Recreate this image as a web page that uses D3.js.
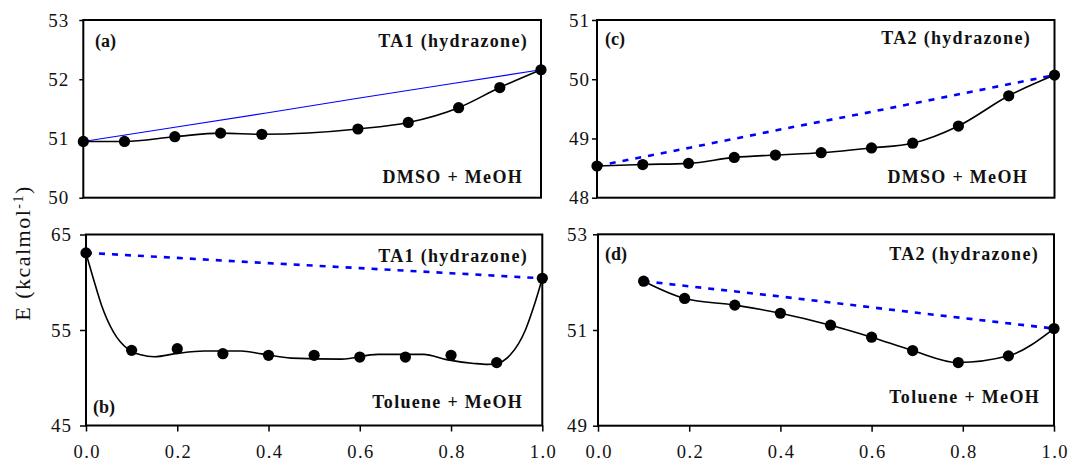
<!DOCTYPE html>
<html><head><meta charset="utf-8">
<script src="https://cdnjs.cloudflare.com/ajax/libs/d3/7.8.5/d3.min.js"></script>
<style>
body{margin:0;background:#fff;}
svg text{font-family:"Times New Roman","Liberation Serif",Times,"Nimbus Roman",serif !important;}
</style></head><body>
<svg id="chart" width="1069" height="461"></svg>
<script>
// ---------- data ----------
const xTicks = [0, 0.2, 0.4, 0.6, 0.8, 1.0];

// (a) TA1, DMSO + MeOH
const xA = [0, 0.09, 0.2, 0.3, 0.39, 0.6, 0.71, 0.82, 0.91, 1.0];
const yA = [50.95, 50.95, 51.03, 51.09, 51.07, 51.16, 51.27, 51.52, 51.86, 52.16];
const idealAx = [0, 0.2, 0.4, 0.6, 0.8, 1.0];
const idealAy = [50.95, 51.19, 51.43, 51.68, 51.92, 52.16];
const yTicksA = [50, 51, 52, 53];

// (b) TA1, Toluene + MeOH
const xB = [0, 0.1, 0.2, 0.3, 0.4, 0.5, 0.6, 0.7, 0.8, 0.9, 1.0];
const yB = [63.08, 52.87, 53.04, 52.52, 52.35, 52.35, 52.17, 52.17, 52.35, 51.58, 60.41];
const fitBx = [0, 0.016, 0.034, 0.06, 0.093, 0.12, 0.15, 0.2, 0.26, 0.34, 0.385, 0.45, 0.56, 0.64, 0.74, 0.79, 0.85, 0.88, 0.9, 0.93, 0.963, 0.981, 1.0];
const fitBy = [63.03, 60.4, 57.6, 54.8, 52.95, 52.4, 52.2, 52.55, 52.8, 52.8, 52.5, 52.05, 51.95, 52.45, 52.45, 51.9, 51.5, 51.4, 51.5, 52.4, 55.0, 57.4, 60.4];
const idealBx = [0, 0.2, 0.4, 0.6, 0.8, 1.0];
const idealBy = [63.08, 62.55, 62.0, 61.48, 60.95, 60.41];
const yTicksB = [45, 55, 65];

// (c) TA2, DMSO + MeOH
const xC = [0, 0.1, 0.2, 0.3, 0.39, 0.49, 0.6, 0.69, 0.79, 0.9, 1.0];
const yC = [48.535, 48.56, 48.58, 48.68, 48.72, 48.76, 48.84, 48.92, 49.21, 49.72, 50.07];
const idealCx = [0, 0.2, 0.4, 0.6, 0.8, 1.0];
const idealCy = [48.535, 48.84, 49.15, 49.45, 49.76, 50.07];
const yTicksC = [48, 49, 50, 51];

// (d) TA2, Toluene + MeOH
const xD = [0.1, 0.19, 0.3, 0.4, 0.51, 0.6, 0.69, 0.79, 0.9, 1.0];
const yD = [52.02, 51.66, 51.52, 51.35, 51.10, 50.85, 50.57, 50.32, 50.46, 51.03];
const idealDx = [0.1, 0.4, 0.7, 1.0];
const idealDy = [52.02, 51.70, 51.36, 51.03];
const yTicksD = [49, 51, 53];

const zip = (xs, ys) => xs.map((x, i) => [x, ys[i]]);

// ---------- layout ----------
const panels = [
  {id:"a", box:[83.3, 20, 541, 197.7], dom:[50,53], ticks:yTicksA, pts:zip(xA,yA), fit:zip(xA,yA),
   ideal:zip(idealAx,idealAy), idealSolid:true, tPad:10, tSize:4, bottom:false,
   tag:"(a)", tagPos:[95,47], title:"TA1 (hydrazone)", titleY:47, titleX:528, sys:"DMSO + MeOH", sysY:183, sysX:523},
  {id:"b", box:[86, 234.5, 542.3, 425.5], dom:[45,65], ticks:yTicksB, pts:zip(xB,yB), fit:zip(fitBx,fitBy),
   ideal:zip(idealBx,idealBy), idealSolid:false, tPad:8, tSize:6, bottom:true,
   tag:"(b)", tagPos:[93,413], title:"TA1 (hydrazone)", titleY:262, titleX:528, sys:"Toluene + MeOH", sysY:408, sysX:523},
  {id:"c", box:[597, 20, 1054.5, 197.7], dom:[48,51], ticks:yTicksC, pts:zip(xC,yC), fit:zip(xC,yC),
   ideal:zip(idealCx,idealCy), idealSolid:false, tPad:2, tSize:5, bottom:false,
   tag:"(c)", tagPos:[605,45], title:"TA2 (hydrazone)", titleY:44, titleX:1031, sys:"DMSO + MeOH", sysY:183, sysX:1028},
  {id:"d", box:[598, 234.3, 1054, 425.7], dom:[49,53], ticks:yTicksD, pts:zip(xD,yD), fit:zip(xD,yD),
   ideal:zip(idealDx,idealDy), idealSolid:false, tPad:5, tSize:5, bottom:true,
   tag:"(d)", tagPos:[605,260], title:"TA2 (hydrazone)", titleY:260, titleX:1039, sys:"Toluene + MeOH", sysY:403, sysX:1040}
];

const svg = d3.select("#chart");

panels.forEach(p => {
  const [x0, y0, x1, y1] = p.box;
  const x = d3.scaleLinear().domain([0, 1]).range([x0, x1]);
  const y = d3.scaleLinear().domain(p.dom).range([y1, y0]);
  const g = svg.append("g");

  // y axis
  const ya = g.append("g").attr("transform", `translate(${x0},0)`)
    .call(d3.axisLeft(y).tickValues(p.ticks).tickSize(p.tSize).tickPadding(p.tPad).tickFormat(d3.format("d")));
  ya.select(".domain").remove();
  ya.attr("font-family", null).attr("font-size", null);
  ya.selectAll("line").attr("stroke", "#000").attr("stroke-width", 1.5);
  ya.selectAll("text").style("font-size", "19px").attr("fill", "#111").attr("letter-spacing", "1px");

  if (p.bottom) {
    const xa = g.append("g").attr("transform", `translate(0,${y1})`)
      .call(d3.axisBottom(x).tickValues(xTicks).tickSize(6).tickPadding(13).tickFormat(d3.format(".1f")));
    xa.select(".domain").remove();
    xa.attr("font-family", null).attr("font-size", null);
    xa.selectAll("line").attr("stroke", "#000").attr("stroke-width", 1.5);
    xa.selectAll("text").style("font-size", "18.5px").attr("fill", "#111")
      .attr("letter-spacing", "1.5px").attr("dx", "0.75px");
  }

  // ideal (blue) line
  g.append("path").datum(p.ideal)
    .attr("fill", "none").attr("stroke", "#0000ff")
    .attr("stroke-width", p.idealSolid ? 1.1 : 2.6)
    .attr("stroke-dasharray", p.idealSolid ? null : "6,7")
    .attr("d", d3.line().x(d => x(d[0])).y(d => y(d[1])));

  // fitted (black) line
  g.append("path").datum(p.fit)
    .attr("fill", "none").attr("stroke", "#000").attr("stroke-width", 1.6)
    .attr("d", d3.line().curve(d3.curveMonotoneX).x(d => x(d[0])).y(d => y(d[1])));

  // frame
  g.append("rect").attr("x", x0).attr("y", y0).attr("width", x1 - x0).attr("height", y1 - y0)
    .attr("fill", "none").attr("stroke", "#000").attr("stroke-width", 2);

  // points
  g.selectAll("circle.pt").data(p.pts).join("circle").attr("class", "pt")
    .attr("cx", d => x(d[0])).attr("cy", d => y(d[1])).attr("r", 5.6).attr("fill", "#000");

  // annotations
  const bold = sel => sel.style("font-weight", "bold").style("font-size", "18px").attr("fill", "#111");
  g.append("text").attr("x", p.tagPos[0]).attr("y", p.tagPos[1]).text(p.tag).call(bold);
  g.append("text").attr("x", p.titleX).attr("y", p.titleY).attr("text-anchor", "end")
    .attr("letter-spacing", "1.3px").text(p.title).call(bold);
  g.append("text").attr("x", p.sysX).attr("y", p.sysY).attr("text-anchor", "end")
    .attr("letter-spacing", "1.3px").text(p.sys).call(bold);
});

// y axis title
const yt = svg.append("text")
  .attr("transform", "translate(22,253) rotate(-90)")
  .attr("text-anchor", "middle").attr("dy", "0.35em")
  .style("font-size", "22px").attr("letter-spacing", "1.5px").attr("fill", "#111");
yt.append("tspan").text("E (kcalmol");
yt.append("tspan").style("font-size", "14px").attr("baseline-shift", "super").text("-1");
yt.append("tspan").text(")");
</script>
</body></html>
